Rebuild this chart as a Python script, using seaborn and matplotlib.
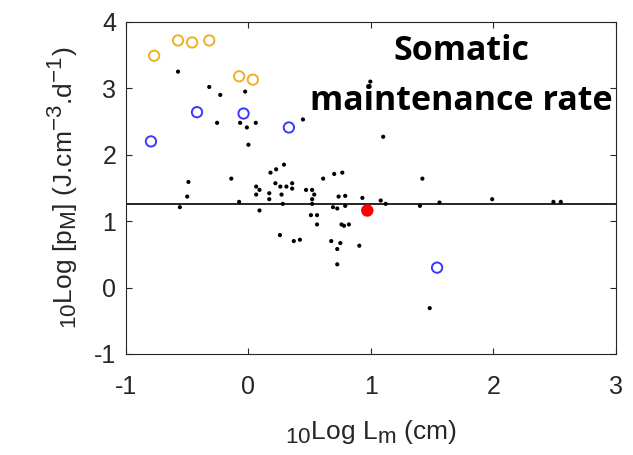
import matplotlib
matplotlib.use("Agg")
import matplotlib.pyplot as plt
import matplotlib._mathtext as mathtext_internals
import seaborn as sns

# log10 Lm (cm) / log10 [pM] for each species
lm_black = [-0.575, -0.32, -0.23, -0.027, -0.256, -0.068, -0.013, 0.06, 0.0, 0.445,
            0.29, 0.226, 0.995, 1.10, -0.49, -0.50, -0.56, -0.14, -0.076, 0.063,
            0.09, 0.063, 0.09, 0.18, 0.22, 0.26, 0.31, 0.357, 0.357, 0.17,
            0.17, 0.27, 0.28, 0.257, 0.37, 0.42, 0.47, 0.52, 0.537, 0.52,
            0.52, 0.51, 0.56, 0.56, 0.61, 0.70, 0.766, 0.69, 0.725, 0.736,
            0.79, 0.79, 0.93, 0.676, 0.725, 0.725, 0.75, 0.76, 0.78, 0.82,
            0.905, 1.08, 1.12, 1.40, 1.42, 1.56, 1.99, 2.49, 2.55, 1.48]
pm_black = [3.25, 3.02, 2.90, 2.95, 2.48, 2.48, 2.41, 2.48, 2.15, 2.53,
            1.85, 1.78, 3.10, 2.27, 1.59, 1.37, 1.21, 1.64, 1.29, 1.52,
            1.47, 1.40, 1.16, 1.73, 1.57, 1.52, 1.52, 1.57, 1.49, 1.42,
            1.33, 1.40, 1.26, 0.79, 0.70, 0.72, 1.47, 1.47, 1.40, 1.33,
            1.26, 1.09, 1.09, 0.95, 1.64, 1.71, 1.73, 1.21, 1.19, 1.37,
            1.38, 1.23, 1.35, 0.70, 0.58, 0.35, 0.67, 0.95, 0.93, 0.95,
            0.63, 1.31, 1.26, 1.23, 1.64, 1.28, 1.33, 1.29, 1.29, -0.31]

lm_orange = [-0.77, -0.575, -0.46, -0.32, -0.076, 0.036]
pm_orange = [3.49, 3.72, 3.69, 3.72, 3.18, 3.13]

lm_blue = [-0.796, -0.42, -0.04, 0.33, 1.54]
pm_blue = [2.20, 2.64, 2.62, 2.41, 0.30]

lm_red = [0.97]
pm_red = [1.16]

pm_mean = 1.26

sns.set_style("white")
plt.rcParams["font.family"] = ["Liberation Sans", "DejaVu Sans"]
plt.rcParams["mathtext.default"] = "regular"
plt.rcParams["axes.unicode_minus"] = False
# bigger sub/superscripts, closer to the original figure
mathtext_internals.SHRINK_FACTOR = 0.85

fig = plt.figure(figsize=(6.33, 4.55), dpi=100)
ax = fig.add_axes([0.199, 0.222, 0.774, 0.730])

ax.axhline(pm_mean, color="black", lw=1.2, zorder=1)

sns.scatterplot(x=lm_black, y=pm_black, ax=ax, color="black", s=9,
                edgecolor="none", zorder=4)
sns.scatterplot(x=lm_orange, y=pm_orange, ax=ax, s=55, facecolor="none",
                edgecolor="#EDB120", linewidth=1.4, zorder=3)
sns.scatterplot(x=lm_blue, y=pm_blue, ax=ax, s=55, facecolor="none",
                edgecolor="#3838FF", linewidth=1.4, zorder=3)
sns.scatterplot(x=lm_red, y=pm_red, ax=ax, s=80, color="#FF0000",
                edgecolor="none", zorder=5)

ax.set_xlim(-1, 3)
ax.set_ylim(-1, 4)
ax.set_xticks([-1, 0, 1, 2, 3])
ax.set_yticks([-1, 0, 1, 2, 3, 4])
ax.tick_params(direction="in", top=True, right=True, bottom=True, left=True,
               length=4, width=0.8, labelsize=18, labelcolor="#262626",
               colors="#262626")
ax.tick_params(axis="x", pad=15)
ax.tick_params(axis="y", pad=7)
for sp in ax.spines.values():
    sp.set_color("#262626")
    sp.set_linewidth(0.8)

ax.set_xlabel(r"$_{10}$Log L$_m$ (cm)", fontsize=19, color="#262626", labelpad=14)
ax.set_ylabel(r"$_{10}$Log [p$_M$] (J.cm$^{-3}$.d$^{-1}$)", fontsize=19,
              color="#262626", labelpad=10)

title_font = dict(ha="center", va="baseline", fontsize=24.5, fontweight="bold",
                  family=["Open Sans", "DejaVu Sans"], color="black", zorder=3)
ax.text(1.74, 3.42, "Somatic", **title_font)
ax.text(1.74, 2.67, "maintenance rate", **title_font)

fig.savefig("out.png", dpi=100)
